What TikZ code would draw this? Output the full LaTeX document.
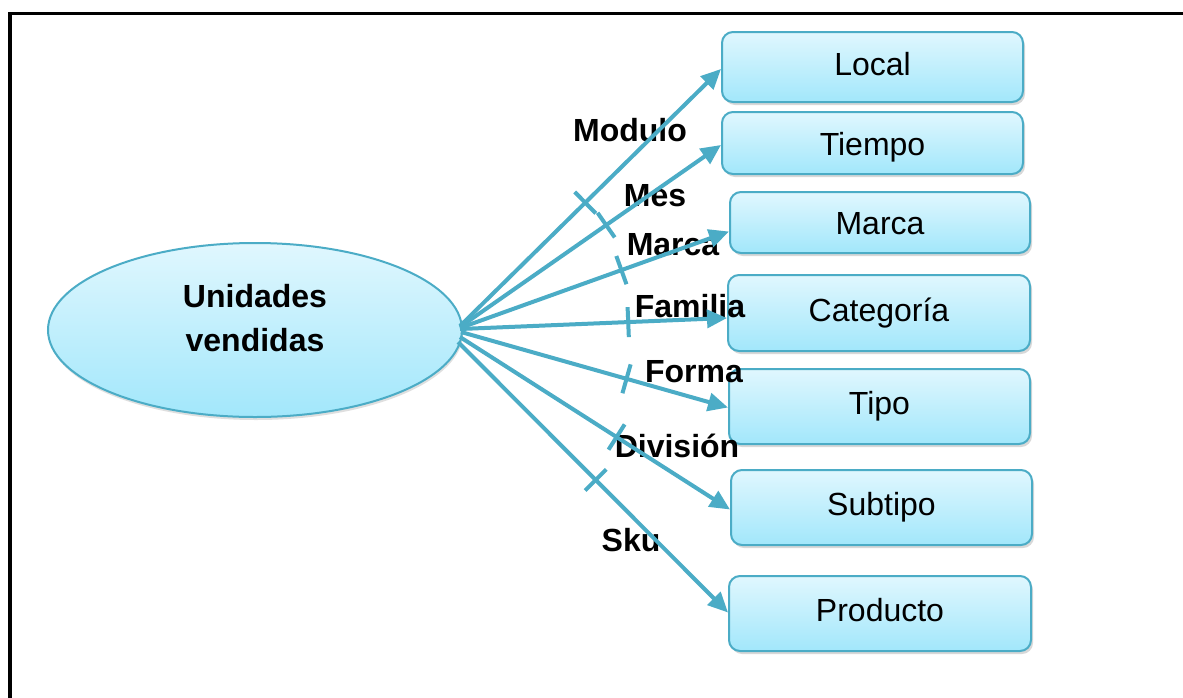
\documentclass[tikz,border=0pt]{standalone}
\usepackage{fontspec}
\setmainfont{Liberation Sans}
\usetikzlibrary{arrows.meta,shadows,decorations.markings,shapes.geometric}
\definecolor{edgeblue}{RGB}{75,172,198}
\definecolor{filltop}{RGB}{224,247,254}
\definecolor{fillbot}{RGB}{162,231,251}
\begin{document}
\begin{tikzpicture}[x=1pt,y=-1pt,
  dimbox/.style={draw=edgeblue, line width=2pt, rounded corners=11pt,
    top color=filltop, bottom color=fillbot,
    font=\fontsize{32}{38}\selectfont, inner sep=0pt,
    text height=23pt, text depth=7pt,
    drop shadow={opacity=0.3, shadow xshift=2pt, shadow yshift=-3pt}},
  factell/.style={ellipse, draw=edgeblue, line width=2pt,
    top color=filltop, bottom color=fillbot, inner sep=0pt,
    drop shadow={opacity=0.25, shadow xshift=1pt, shadow yshift=-3pt}},
  lbl/.style={font=\fontsize{32}{38}\selectfont\bfseries, anchor=base, inner sep=0pt},
  conn/.style={draw=edgeblue, line width=4pt,
    -{Triangle[length=20pt,width=18pt]}},
  tickat/.style={postaction={decorate, decoration={markings,
    mark=at position #1 with {\draw[edgeblue, line width=4pt, arrows=-] (0,-15pt) -- (0,15pt);}}}}
]
\useasboundingbox (0,0) rectangle (1183,697);
\clip (0,0) rectangle (1183,697);
\fill[white] (0,0) rectangle (1183,697);

% frame
\draw[line width=3.5pt] (10,710) -- (10,13.5) -- (1200,13.5);

% central ellipse
\node[factell, minimum width=414pt, minimum height=174pt] (u) at (255,330) {};
\node[font=\fontsize{32}{44}\selectfont\bfseries, align=center, inner sep=0pt] (ut) at (255,318.5) {Unidades\\vendidas};

% dimension boxes
\node[dimbox, minimum width=301pt, minimum height=70pt] (local) at (872.5,67) {Local};
\node[dimbox, minimum width=301pt, minimum height=62pt, text height=31pt] (tiempo) at (872.5,143) {Tiempo};
\node[dimbox, minimum width=300pt, minimum height=61pt, text height=31pt] (marca) at (880,222.5) {Marca};
\node[dimbox, minimum width=302pt, minimum height=76pt] (cat) at (879,313) {Categoría};
\node[dimbox, minimum width=301pt, minimum height=75pt] (tipo) at (879.5,406.5) {Tipo};
\node[dimbox, minimum width=301pt, minimum height=75pt] (subtipo) at (881.5,507.5) {Subtipo};
\node[dimbox, minimum width=302pt, minimum height=75pt] (producto) at (880,613.5) {Producto};

% connector labels
\node[lbl] (lmod) at (630,141) {Modulo};
\node[lbl] (lmes) at (655,206) {Mes};
\node[lbl] (lmar) at (673,255) {Marca};
\node[lbl] (lfam) at (690,317) {Familia};
\node[lbl] (lfor) at (694,382) {Forma};
\node[lbl] (ldiv) at (677,457) {División};
\node[lbl] (lsku) at (631,551) {Sku};

% connectors
\draw[conn, tickat=0.48] ([xshift=-3pt,yshift=4pt]u.east) -- ([yshift=-2pt]local.west);
\draw[conn, tickat=0.56] ([xshift=-3pt,yshift=3pt]u.east) -- ([yshift=-2pt]tiempo.west);
\draw[conn, tickat=0.6] ([xshift=-3pt,yshift=2pt]u.east) -- ([yshift=-9pt]marca.west);
\draw[conn, tickat=0.63] ([xshift=-3pt,yshift=1pt]u.east) -- ([yshift=-5pt]cat.west);
\draw[conn, tickat=0.62] ([xshift=-2pt,yshift=-2pt]u.east) -- ([yshift=-1pt]tipo.west);
\draw[conn, tickat=0.58] ([xshift=-3pt,yshift=-7pt]u.east) -- ([yshift=-2pt]subtipo.west);
\draw[conn, tickat=0.51] ([xshift=-5pt,yshift=-12pt]u.east) -- ([yshift=1pt]producto.west);
\end{tikzpicture}
\end{document}
